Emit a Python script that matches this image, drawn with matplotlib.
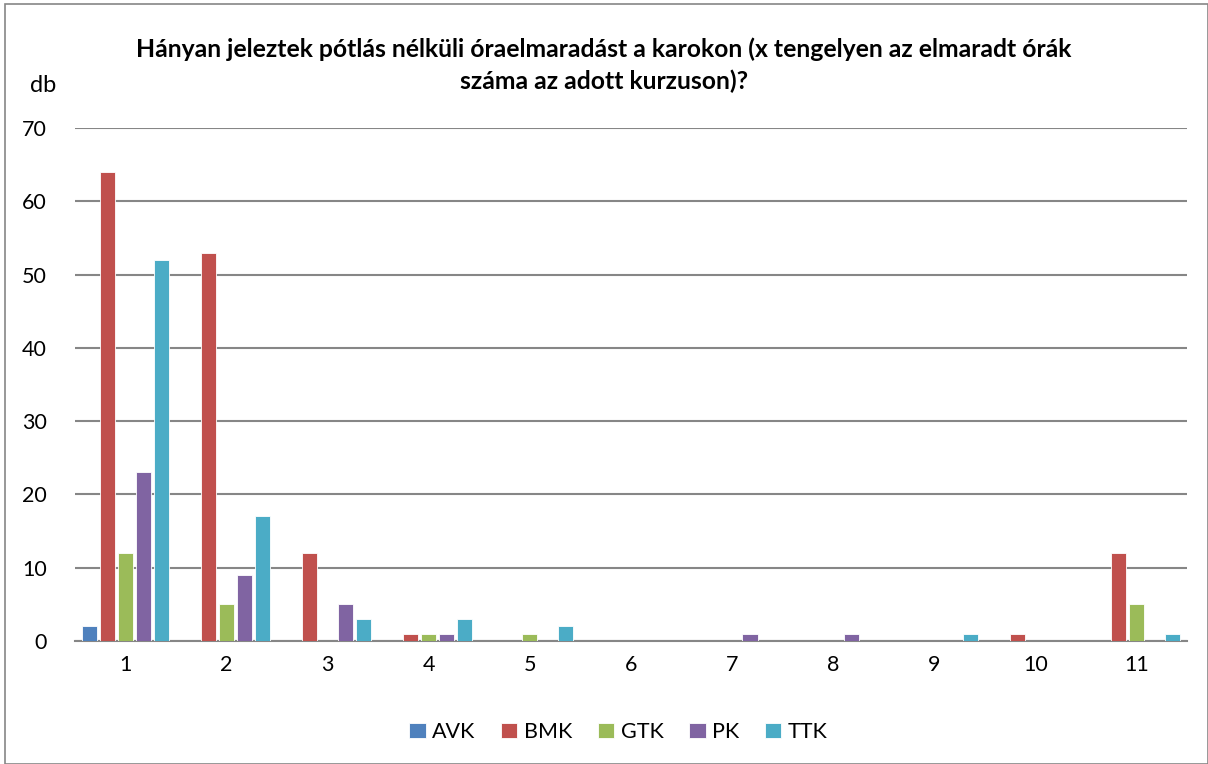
import matplotlib
matplotlib.use("Agg")
import matplotlib.pyplot as plt
import numpy as np

plt.rcParams['font.family'] = ['Lato', 'DejaVu Sans']

categories = ["1", "2", "3", "4", "5", "6", "7", "8", "9", "10", "11"]
series_names = ["AVK", "BMK", "GTK", "PK", "TTK"]
avk = [2, 0, 0, 0, 0, 0, 0, 0, 0, 0, 0]
bmk = [64, 53, 12, 1, 0, 0, 0, 0, 0, 1, 12]
gtk = [12, 5, 0, 1, 1, 0, 0, 0, 0, 0, 5]
pk = [23, 9, 5, 1, 0, 0, 1, 1, 0, 0, 0]
ttk = [52, 17, 3, 3, 2, 0, 0, 0, 1, 0, 1]
colors = ["#4F81BD", "#C0504D", "#9BBB59", "#8064A2", "#4BACC6"]
yticks = [0, 10, 20, 30, 40, 50, 60, 70]

fig = plt.figure(figsize=(12.08, 7.64), dpi=100)
ax = fig.add_axes([0.062, 0.161, 0.9206, 0.6715])

x = np.arange(1, len(categories) + 1)
slot = 0.178
width = 0.15
for i, (name, vals, c) in enumerate(zip(series_names, [avk, bmk, gtk, pk, ttk], colors)):
    ax.bar(x + (i - 2) * slot, vals, width=width, color=c, label=name,
           edgecolor='white', linewidth=0.6, zorder=3)

ax.set_xlim(0.5, 11.5)
ax.set_ylim(0, 70)
ax.set_yticks(yticks)
ax.set_xticks(x)
ax.set_xticklabels(categories)
ax.grid(axis='y', color='#868686', linewidth=1.5, zorder=0)
for s in ['top', 'right', 'left']:
    ax.spines[s].set_visible(False)
ax.spines['bottom'].set_color('#868686')
ax.spines['bottom'].set_linewidth(1.5)
ax.tick_params(axis='both', length=0, labelsize=15.5, colors='black')
ax.tick_params(axis='y', pad=20)
ax.tick_params(axis='x', pad=10)

fig.text(0.5, 0.915, "Hányan jeleztek pótlás nélküli óraelmaradást a karokon (x tengelyen az elmaradt órák\nszáma az adott kurzuson)?",
         ha='center', va='center', fontsize=17.8, fontweight='bold', linespacing=1.45)
fig.text(0.036, 0.888, "db", ha='center', va='center', fontsize=17)

leg = fig.legend(loc='center', bbox_to_anchor=(0.512, 0.042), ncol=5, frameon=False,
                 fontsize=15.5, handlelength=0.75, handleheight=0.75, handletextpad=0.3,
                 columnspacing=1.2)

border = plt.Rectangle((0.004, 0.0), 0.996, 0.995, transform=fig.transFigure,
                       fill=False, edgecolor='#868686', linewidth=1.2)
fig.patches.append(border)

fig.savefig("out.png", dpi=100)
